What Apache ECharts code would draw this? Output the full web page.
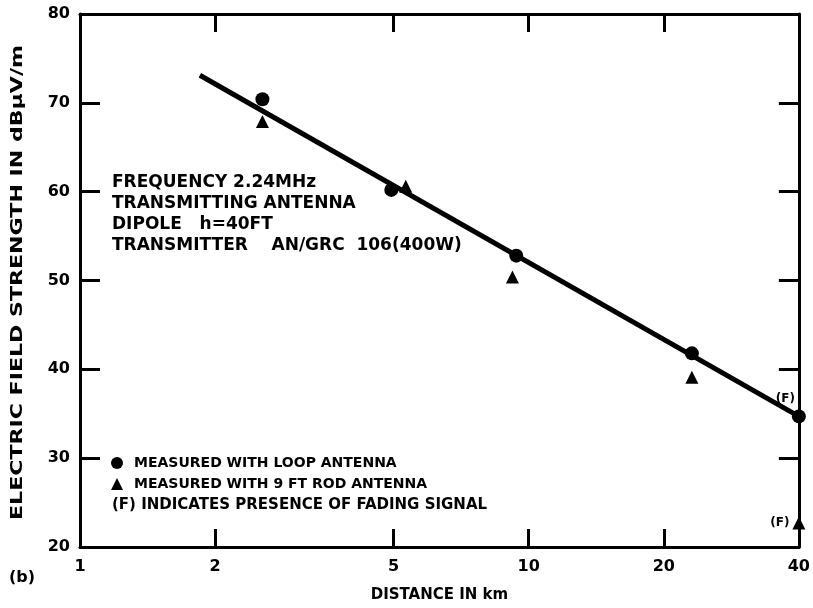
<!DOCTYPE html>
<html>
<head>
<meta charset="utf-8">
<script src="https://cdn.jsdelivr.net/npm/echarts@6/dist/echarts.min.js"></script>
<style>html,body{margin:0;padding:0;background:#fff}#c{width:813px;height:608px}</style>
</head>
<body>
<div id="c"></div>
<script>
// Data
const loopPoints = [[2.55, 70.4], [4.94, 60.2], [9.38, 52.8], [23.1, 41.8], [40, 34.7]];
const rodPoints = [[2.55, 67.9], [5.32, 60.6], [9.2, 50.4], [23.1, 39.1], [40, 22.7]];
const fitLine = [[1.85, 73.1], [40, 34.7]];
const xTickLabels = [1, 2, 5, 10, 20, 40];
const xTickMarks = [2, 5, 10, 20];
const yMin = 20, yMax = 80, yStep = 10;
const noteLines = ['FREQUENCY 2.24MHz', 'TRANSMITTING ANTENNA', 'DIPOLE   h=40FT', 'TRANSMITTER    AN/GRC  106(400W)'];
const fadingNote = '(F) INDICATES PRESENCE OF FADING SIGNAL';
const fadingIndex = 4;
const yTitle = 'ELECTRIC FIELD STRENGTH IN dBμV/m';
const xTitle = 'DISTANCE IN km';

const FONT = 'DejaVu Sans';
const chart = echarts.init(document.getElementById('c'), null, {renderer: 'canvas'});

function fadeLabel(arr, idx, off) {
  return arr.map((p, i) => i === idx ? {value: p, label: {show: true, formatter: '(F)', position: 'left', offset: off, color: '#000', fontFamily: FONT, fontWeight: 'bold', fontSize: 12}} : p);
}

const xBase = {
  type: 'log', logBase: 10, min: 1, max: 40,
  axisLine: {show: true, lineStyle: {color: '#000', width: 3}},
  splitLine: {show: false},
  minorTick: {show: false}
};
const yBase = {
  type: 'value', min: yMin, max: yMax, interval: yStep,
  axisLine: {show: true, lineStyle: {color: '#000', width: 3}},
  splitLine: {show: false}
};

chart.setOption({
  backgroundColor: '#fff',
  animation: false,
  grid: {left: 80, right: 12, top: 14, bottom: 61},
  xAxis: [
    Object.assign({}, xBase, {
      position: 'bottom',
      name: xTitle, nameLocation: 'middle', nameGap: 41,
      nameTextStyle: {color: '#000', fontFamily: FONT, fontWeight: 'bold', fontSize: 15},
      axisTick: {show: true, inside: true, length: 18, customValues: xTickMarks, lineStyle: {color: '#000', width: 3}},
      axisLabel: {show: true, customValues: xTickLabels, color: '#000', fontFamily: FONT, fontWeight: 'bold', fontSize: 16, margin: 12}
    }),
    Object.assign({}, xBase, {
      position: 'top',
      axisTick: {show: true, inside: true, length: 18, customValues: xTickMarks, lineStyle: {color: '#000', width: 3}},
      axisLabel: {show: false}
    })
  ],
  yAxis: [
    Object.assign({}, yBase, {
      position: 'left',
      axisTick: {show: true, inside: true, length: 20, lineStyle: {color: '#000', width: 3}},
      axisLabel: {show: true, color: '#000', fontFamily: FONT, fontWeight: 'bold', fontSize: 16, margin: 10}
    }),
    Object.assign({}, yBase, {
      position: 'right',
      axisTick: {show: true, inside: true, length: 20, lineStyle: {color: '#000', width: 3}},
      axisLabel: {show: false}
    })
  ],
  legend: {
    orient: 'vertical', left: 111, top: 456, itemGap: 7, padding: 0,
    itemWidth: 12, itemHeight: 12,
    itemStyle: {opacity: 1},
    textStyle: {color: '#000', fontFamily: FONT, fontWeight: 'bold', fontSize: 14, padding: [0, 0, 0, 6]},
    data: [
      {name: 'MEASURED WITH LOOP ANTENNA', icon: 'circle'},
      {name: 'MEASURED WITH 9 FT ROD ANTENNA', icon: 'triangle'}
    ]
  },
  series: [
    {
      name: 'fit', type: 'line', data: fitLine, showSymbol: false, symbol: 'none',
      lineStyle: {color: '#000', width: 5}, z: 2
    },
    {
      name: 'MEASURED WITH LOOP ANTENNA', type: 'scatter', symbol: 'circle', symbolSize: 14,
      itemStyle: {color: '#000', opacity: 1}, z: 3,
      data: fadeLabel(loopPoints, fadingIndex, [8, -18])
    },
    {
      name: 'MEASURED WITH 9 FT ROD ANTENNA', type: 'scatter', symbol: 'triangle', symbolSize: 13,
      itemStyle: {color: '#000', opacity: 1}, z: 3,
      data: fadeLabel(rodPoints, fadingIndex, [2, 0])
    }
  ],
  graphic: [
    {type: 'group', left: 112, top: 174, children: noteLines.map((t, i) => ({
      type: 'text', x: 0, y: i * 21,
      style: {text: t, fill: '#000', font: 'bold 17px "' + FONT + '"'}
    }))},
    {type: 'text', left: 112, top: 498, style: {text: fadingNote, fill: '#000', font: 'bold 15px "' + FONT + '"'}},
    {type: 'text', x: 10, y: 520, rotation: Math.PI / 2, scaleX: 1.38, originX: 0, originY: 0,
      style: {text: yTitle, fill: '#000', font: 'bold 16px "' + FONT + '"', textAlign: 'left', textVerticalAlign: 'top'}},
    {type: 'text', left: 9, top: 570, style: {text: '(b)', fill: '#000', font: 'bold 16px "' + FONT + '"'}}
  ]
});
</script>
</body>
</html>
